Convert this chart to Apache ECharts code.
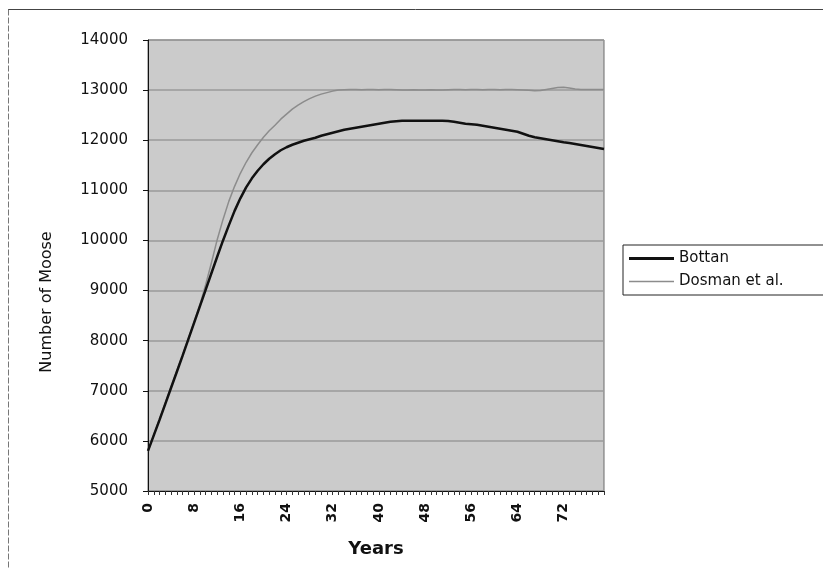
<!DOCTYPE html>
<html>
<head>
<meta charset="utf-8">
<script src="https://cdn.jsdelivr.net/npm/echarts@6/dist/echarts.min.js"></script>
<style>
html,body{margin:0;padding:0;background:#fff;}
#chart{width:823px;height:569px;}
</style>
</head>
<body>
<div id="chart"></div>
<script>
const years = [];
for (let y = 0; y <= 79; y++) years.push(String(y));

const bottan = [
  5800, 6110, 6420, 6740, 7060, 7380, 7700, 8030, 8360, 8690,
  9020, 9350, 9680, 10000, 10300, 10590, 10840, 11060, 11240, 11390,
  11520, 11630, 11720, 11800, 11860, 11910, 11950, 11990, 12020, 12050,
  12090, 12120, 12150, 12180, 12210, 12230, 12250, 12270, 12290, 12310,
  12330, 12350, 12370, 12380, 12390, 12390, 12390, 12390, 12390, 12390,
  12390, 12390, 12385, 12370, 12350, 12330, 12320, 12310, 12290, 12270,
  12250, 12230, 12210, 12190, 12170, 12130, 12090, 12060, 12040, 12020,
  12000, 11980, 11960, 11945, 11925, 11905, 11885, 11865, 11845, 11825
];

const dosman = [
  5800, 6120, 6440, 6760, 7080, 7400, 7720, 8050, 8380, 8720,
  9120, 9560, 10020, 10420, 10780, 11080, 11340, 11560, 11750, 11910,
  12060, 12190, 12300, 12420, 12520, 12620, 12700, 12770, 12830, 12880,
  12920, 12950, 12980, 13000, 13005, 13010, 13010, 13005, 13010, 13010,
  13005, 13010, 13010, 13005, 13000, 13000, 13005, 13000, 13000, 13005,
  13000, 13000, 13005, 13010, 13010, 13005, 13010, 13010, 13005, 13010,
  13010, 13005, 13010, 13010, 13005, 13000, 12995, 12985, 12990, 13010,
  13030, 13050, 13055, 13040, 13020, 13010, 13010, 13010, 13010, 13010
];

const yMin = 5000, yMax = 14000, yStep = 1000;
const xLabelStep = 8;

const chart = echarts.init(document.getElementById('chart'));
chart.setOption({
  animation: false,
  backgroundColor: '#ffffff',
  graphic: [
    { type: 'line', shape: { x1: 8, y1: 9.5, x2: 823, y2: 9.5 }, style: { stroke: '#444', lineWidth: 1 } },
    { type: 'line', shape: { x1: 8.5, y1: 9.5, x2: 8.5, y2: 569 }, style: { stroke: '#777', lineWidth: 1, lineDash: [6, 2] } },
    {
      type: 'text', x: 47, y: 302, rotation: Math.PI / 2,
      style: { text: 'Number of Moose', font: '16px "DejaVu Sans"', fill: '#111', align: 'center', verticalAlign: 'middle' }
    }
  ],
  grid: {
    left: 148, right: 219, top: 40, bottom: 78,
    show: true, backgroundColor: '#cbcbcb', borderColor: '#6a6a6a', borderWidth: 1
  },
  legend: {
    orient: 'vertical', left: 623, top: 245,
    padding: [6, 60, 6, 6], itemGap: 8,
    itemWidth: 45, itemHeight: 14,
    borderColor: '#222', borderWidth: 1, backgroundColor: '#fff',
    textStyle: { fontFamily: 'DejaVu Sans', fontSize: 15, color: '#111' },
    data: [
      { name: 'Bottan', icon: 'path://M0,0 L45,0 L45,3 L0,3 Z', itemStyle: { color: '#111' } },
      { name: 'Dosman et al.', icon: 'path://M0,0 L45,0 L45,1.5 L0,1.5 Z', itemStyle: { color: '#8c8c8c' } }
    ]
  },
  xAxis: {
    type: 'category', data: years, boundaryGap: false,
    name: 'Years', nameLocation: 'middle', nameGap: 49,
    nameTextStyle: { fontFamily: 'DejaVu Sans', fontSize: 18, fontWeight: 'bold', color: '#111' },
    axisLine: { lineStyle: { color: '#111', width: 1 } },
    axisTick: { show: true, interval: 0, length: 4, lineStyle: { color: '#333' } },
    axisLabel: {
      interval: (i) => i % xLabelStep === 0, rotate: 90, margin: 12,
      fontFamily: 'DejaVu Sans', fontSize: 14, fontWeight: 'bold', color: '#111'
    },
    splitLine: { show: false }
  },
  yAxis: {
    type: 'value', min: yMin, max: yMax, interval: yStep,
    axisLine: { show: true, lineStyle: { color: '#111', width: 1 } },
    axisTick: { show: true, length: 5, lineStyle: { color: '#111' } },
    axisLabel: { margin: 20, fontFamily: 'DejaVu Sans', fontSize: 15, color: '#111', formatter: (v) => String(v) },
    splitLine: { show: true, lineStyle: { color: '#9a9a9a', width: 1.5 } }
  },
  series: [
    {
      name: 'Bottan', type: 'line', data: bottan, symbol: 'none', smooth: false,
      lineStyle: { color: '#111', width: 2.5 }, itemStyle: { color: '#111' }, z: 3
    },
    {
      name: 'Dosman et al.', type: 'line', data: dosman, symbol: 'none', smooth: false,
      lineStyle: { color: '#8c8c8c', width: 1.5 }, itemStyle: { color: '#8c8c8c' }, z: 2
    }
  ]
});
</script>
</body>
</html>
